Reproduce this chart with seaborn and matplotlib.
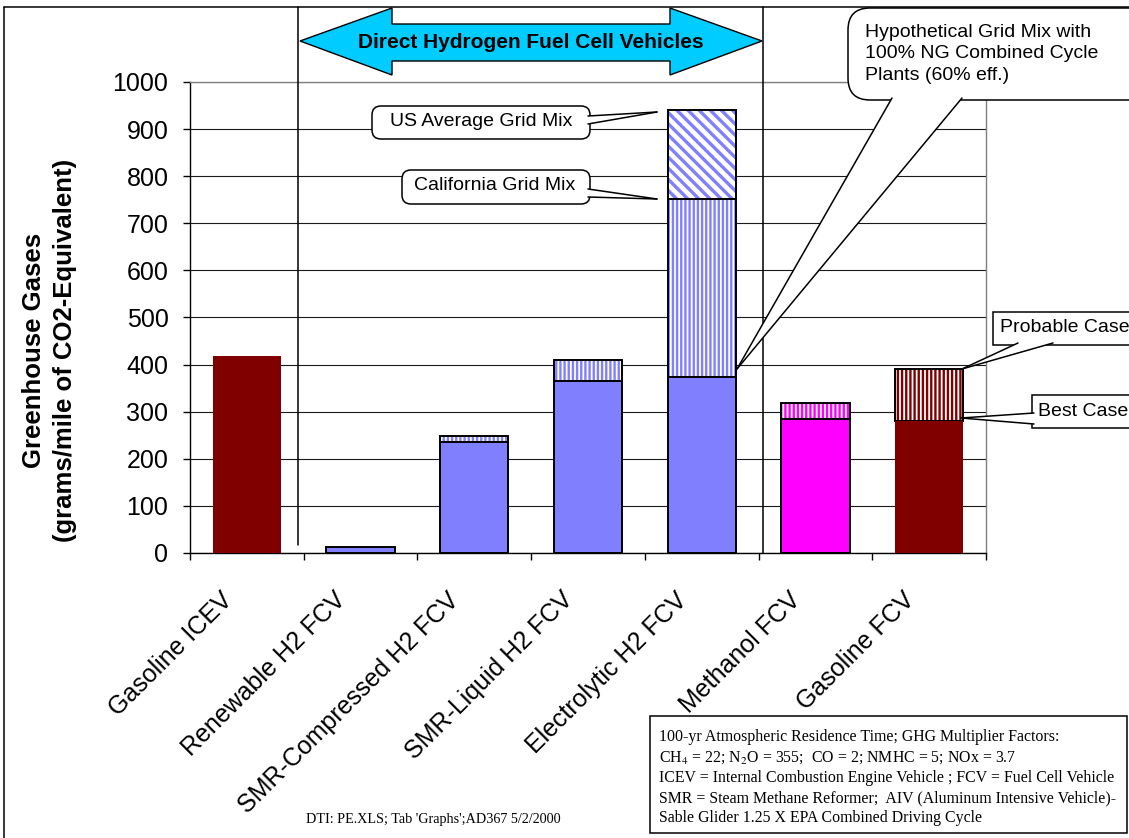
import numpy as np
import pandas as pd
import matplotlib
matplotlib.use("Agg")
import matplotlib.pyplot as plt
import matplotlib.transforms as mtransforms
from matplotlib.patches import Polygon, Rectangle, FancyBboxPatch
from matplotlib.lines import Line2D
import seaborn as sns

# ---- data ----
categories = ["Gasoline ICEV", "Renewable H2 FCV", "SMR-Compressed H2 FCV",
              "SMR-Liquid H2 FCV", "Electrolytic H2 FCV", "Methanol FCV", "Gasoline FCV"]
base_values = [418, 12, 236, 366, 374, 284, 280]           # best case / NG combined cycle
upper_values = [np.nan, np.nan, 248, 409, 751, 319, 390]   # probable case / California grid
us_grid_values = [np.nan, np.nan, np.nan, np.nan, 940, np.nan, np.nan]
bar_colors = ["#800000", "#8080FF", "#8080FF", "#8080FF", "#8080FF", "#FF00FF", "#800000"]
y_ticks = list(range(0, 1001, 100))

sns.set_theme(style="white")
plt.rcParams["font.family"] = ["Liberation Sans", "DejaVu Sans"]
plt.rcParams["hatch.linewidth"] = 1.7
plt.rcParams["mathtext.fontset"] = "stix"

W, H = 1129, 838
fig = plt.figure(figsize=(W / 100, H / 100), dpi=100)
fig.patch.set_facecolor("white")
# pixel coordinates measured from the top-left corner of the canvas
PX = mtransforms.Affine2D().scale(1 / 100, -1 / 100).translate(0, H / 100) + fig.dpi_scale_trans

ax = fig.add_axes([190 / W, 1 - 553 / H, (986 - 190) / W, (553 - 82) / H])
ax.set_facecolor("white")


def draw_layer(values):
    df = pd.DataFrame({"vehicle": categories, "value": values}).dropna()
    n0 = len(ax.patches)
    sns.barplot(data=df, x="vehicle", y="value", order=categories, width=0.6,
                errorbar=None, saturation=1, color="white", ax=ax)
    out = []
    for p in ax.patches[n0:]:
        idx = int(round(p.get_x() + p.get_width() / 2))
        out.append((idx, p))
    return out


def hatch_layer(values, lower_values, hatch, zorder, stripe=None, hatch_lw=None):
    for idx, p in draw_layer(values):
        color = stripe or bar_colors[idx]
        p.set_facecolor("white")
        p.set_edgecolor(color)
        p.set_linewidth(0)
        p.set_hatch(hatch)
        if hatch_lw is not None and hasattr(p, "set_hatch_linewidth"):
            p.set_hatch_linewidth(hatch_lw)
        p.set_zorder(zorder)
        lower = lower_values[idx]
        ax.add_patch(Rectangle((p.get_x(), lower), p.get_width(), p.get_height() - lower,
                               fill=False, edgecolor="black", linewidth=1.4,
                               zorder=zorder + 0.5))


# upper stacked segments first, solid base segments on top
hatch_layer(us_grid_values, upper_values, "\\\\\\", 2, stripe="#8080FF", hatch_lw=2.4)
hatch_layer(upper_values, base_values, "||||", 3, hatch_lw=1.7)
for idx, p in draw_layer(base_values):
    p.set_facecolor(bar_colors[idx])
    p.set_zorder(4)
    if bar_colors[idx] == "#800000":
        p.set_linewidth(0)
    else:
        p.set_edgecolor("black")
        p.set_linewidth(1.4)

# ---- axes styling ----
ax.set_xlim(-0.5, len(categories) - 0.5)
ax.set_ylim(0, 1000)
ax.set_yticks(y_ticks)
ax.set_yticklabels([str(v) for v in y_ticks])
ax.yaxis.grid(True, color="#1a1a1a", linewidth=0.8)
ax.xaxis.grid(False)
ax.set_axisbelow(True)
for side in ["left", "bottom"]:
    ax.spines[side].set_color("black")
    ax.spines[side].set_linewidth(1.0)
for side in ["right", "top"]:
    ax.spines[side].set_color("#808080")
    ax.spines[side].set_linewidth(1.0)
ax.set_xlabel("")
ax.tick_params(axis="y", direction="out", length=5, width=1, color="black",
               pad=10.5, labelsize=18, labelcolor="black", left=True)
ax.set_xticks(range(len(categories)))
ax.set_xticklabels(categories, rotation=45, ha="right", fontsize=18, color="black")
ax.tick_params(axis="x", which="major", length=0, pad=25)
ax.set_xticks(np.arange(-0.5, len(categories), 1.0), minor=True)
ax.tick_params(axis="x", which="minor", direction="out", length=5, width=1,
               color="black", bottom=True)
shift = mtransforms.ScaledTranslation(-10 / 100, 0, fig.dpi_scale_trans)
for lbl in ax.get_xticklabels():
    lbl.set_transform(lbl.get_transform() + shift)

ax.set_ylabel("Greenhouse Gases\n(grams/mile of CO2-Equivalent)", fontsize=18.5,
              fontweight="bold", linespacing=1.35, color="black")
ax.yaxis.set_label_coords((77 - 190) / 796, (553 - 350) / 471)

# ---- page frame and group separators ----
for xs, ys in [([4, 4], [7, H]), ([4, W], [7, 7]), ([298, 298], [7, 545]), ([763, 763], [7, 553])]:
    fig.add_artist(Line2D(xs, ys, transform=PX, color="black", linewidth=1.1, zorder=3))

# ---- double-headed banner arrow ----
arrow_pts = [(300, 41), (392, 8), (392, 24), (670, 24), (670, 8), (762, 41),
             (670, 75), (670, 61), (392, 61), (392, 75)]
fig.add_artist(Polygon(arrow_pts, closed=True, transform=PX, facecolor="#00CCFF",
                       edgecolor="black", linewidth=1.0, zorder=6))
fig.text(531, 42, "Direct Hydrogen Fuel Cell Vehicles", transform=PX, ha="center",
         va="center", fontsize=15, fontweight="bold", color="black", zorder=7)


def callout(box, tip, base_pts, text_xy, text, ha="left", style="square"):
    x0, y0, x1, y1 = box
    if style == "square":
        patch = Rectangle((x0, y0), x1 - x0, y1 - y0, transform=PX, facecolor="white",
                          edgecolor="black", linewidth=1.1, zorder=6)
    else:
        patch = FancyBboxPatch((x0, y0), x1 - x0, y1 - y0, boxstyle=style, transform=PX,
                               facecolor="white", edgecolor="black", linewidth=1.1, zorder=6)
    fig.add_artist(patch)
    (ax0, ay0), (ax1, ay1) = base_pts
    fig.add_artist(Polygon([(ax0, ay0), tip, (ax1, ay1)], closed=True, transform=PX,
                           facecolor="white", edgecolor="none", zorder=6.5))
    for (bx, by) in base_pts:
        fig.add_artist(Line2D([bx, tip[0]], [by, tip[1]], transform=PX, color="black",
                              linewidth=1.1, zorder=6.6))
    fig.text(text_xy[0], text_xy[1], text, transform=PX, ha=ha, va="center",
             fontsize=14, color="black", zorder=7, linespacing=1.35)


callout((848, 8, 1150, 100), (737, 369), [(892, 98), (962, 98)], (865, 54),
        "Hypothetical Grid Mix with\n100% NG Combined Cycle\nPlants (60% eff.)",
        style="round,pad=0,rounding_size=22")
callout((372, 106, 590, 139), (657, 112), [(588, 116), (588, 124)], (481, 122),
        "US Average Grid Mix", ha="center", style="round,pad=0,rounding_size=9")
callout((402, 170, 590, 204), (657, 199), [(588, 189), (588, 197)], (495, 186),
        "California Grid Mix", ha="center", style="round,pad=0,rounding_size=9")
callout((993, 312, 1150, 345), (962, 369), [(1018, 343), (1053, 343)], (1000, 328),
        "Probable Case")
callout((1032, 395, 1150, 428), (961, 418), [(1034, 413), (1034, 424)], (1038, 411),
        "Best Case")

# ---- footnotes ----
fig.add_artist(Rectangle((650, 716), 477, 117, transform=PX, facecolor="white",
                         edgecolor="black", linewidth=1.1, zorder=6))
notes = [
    "100-yr Atmospheric Residence Time; GHG Multiplier Factors:",
    "CH$_4$ = 22; N$_2$O = 355;  CO = 2; NMHC = 5; NOx = 3.7",
    "ICEV = Internal Combustion Engine Vehicle ; FCV = Fuel Cell Vehicle",
    "SMR = Steam Methane Reformer;  AIV (Aluminum Intensive Vehicle)-",
    "Sable Glider 1.25 X EPA Combined Driving Cycle",
]
for i, line in enumerate(notes):
    fig.text(659, 737 + 20.3 * i, line, transform=PX, ha="left", va="center",
             fontsize=11.4, family=["Liberation Serif", "DejaVu Serif"], color="black", zorder=7)
fig.text(433, 820, "DTI: PE.XLS; Tab 'Graphs';AD367 5/2/2000", transform=PX,
         ha="center", va="center", fontsize=10.2, family=["Liberation Serif", "DejaVu Serif"],
         color="black")

fig.savefig("out.png", dpi=100, facecolor="white")
